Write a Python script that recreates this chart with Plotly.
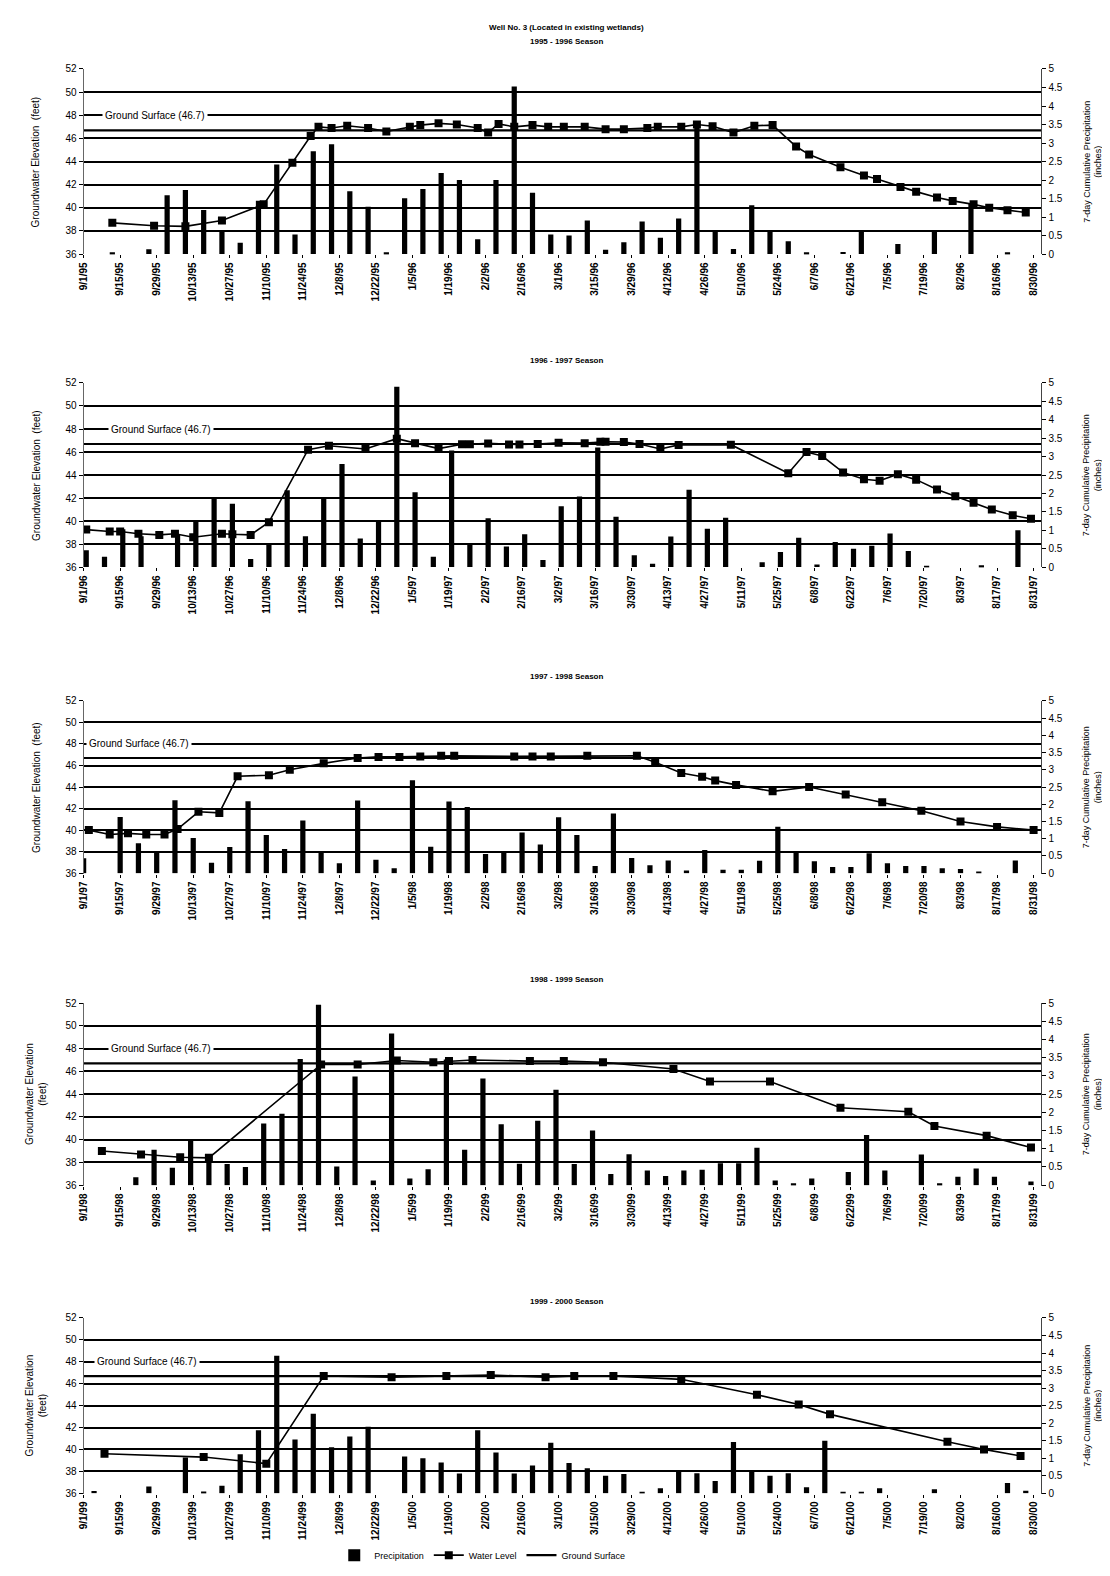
import plotly.graph_objects as go
from datetime import date, timedelta

# ---------------- data ----------------
MAIN_TITLE = "Well No. 3 (Located in existing wetlands)"
SEASON_TITLES = ["1995 - 1996 Season", "1996 - 1997 Season", "1997 - 1998 Season",
                 "1998 - 1999 Season", "1999 - 2000 Season"]
SEASON_STARTS = ["1995-09-01", "1996-09-01", "1997-09-01", "1998-09-01", "1999-09-01"]
GROUND_SURFACE_FT = 46.7
GROUND_LABEL = "Ground Surface (46.7)"

ELEV_TICKS = [36, 38, 40, 42, 44, 46, 48, 50, 52]
PRECIP_TICKS = [0, 0.5, 1, 1.5, 2, 2.5, 3, 3.5, 4, 4.5, 5]
PRECIP_TICKTEXT = ["0", "0.5", "1", "1.5", "2", "2.5", "3", "3.5", "4", "4.5", "5"]

# weekly 7-day cumulative precipitation (inches); first bar day offset from season start
precip_first_day = [11, 1, 0, 20, 4]
precip_9596 = [0.05, 0, 0.13, 1.59, 1.73, 1.19, 0.62, 0.31, 1.44, 2.42, 0.53, 2.78, 2.97, 1.70,
               1.28, 0.05, 1.51, 1.76, 2.19, 2.0, 0.4, 2.0, 4.53, 1.66, 0.53,
               0.5, 0.91, 0.12, 0.32, 0.88, 0.44, 0.96, 3.53, 0.65, 0.14, 1.32, 0.64, 0.35,
               0.05, 0, 0.06, 0.64, 0, 0.27, 0, 0.62, 0, 1.36, 0, 0.05, 0]
precip_9697 = [0.46, 0.28, 1.03, 0.84, 0, 0.87, 1.28, 1.86, 1.72, 0.22, 0.65, 2.09, 0.84, 1.85,
               2.8, 0.78, 1.23, 4.9, 2.03, 0.28, 3.17, 0.63, 1.33, 0.56, 0.89, 0.19, 1.65,
               1.92, 3.25, 1.37, 0.32, 0.09, 0.83, 2.1, 1.04, 1.34, 0, 0.13, 0.41, 0.8, 0.07,
               0.68, 0.5, 0.58, 0.91, 0.44, 0.04, 0, 0, 0.05, 0, 1.0]
precip_9798 = [0.43, 0, 1.63, 0.87, 0.6, 2.12, 1.02, 0.3, 0.76, 2.09, 1.11, 0.7, 1.53, 0.59,
               0.29, 2.11, 0.39, 0.14, 2.7, 0.77, 2.08, 1.92, 0.56, 0.59, 1.18, 0.83, 1.62,
               1.11, 0.21, 1.73, 0.44, 0.23, 0.37, 0.08, 0.67, 0.1, 0.1, 0.36, 1.35, 0.64,
               0.35, 0.18, 0.18, 0.58, 0.29, 0.21, 0.21, 0.14, 0.12, 0.03, 0, 0.37, 0]
precip_9899 = [0.22, 0.97, 0.48, 1.21, 0.83, 0.58, 0.5, 1.69, 1.96, 3.46, 4.95, 0.51, 2.98,
               0.13, 4.16, 0.18, 0.44, 3.45, 0.97, 2.93, 1.67, 0.59, 1.77, 2.62,
               0.58, 1.5, 0.31, 0.85, 0.4, 0.25, 0.4, 0.42, 0.6, 0.6, 1.03, 0.13, 0.05, 0.18,
               0, 0.36, 1.38, 0.4, 0, 0.84, 0.05, 0.23, 0.46, 0.23, 0, 0.1]
precip_9900 = [0.06, 0, 0, 0.19, 0, 1.02, 0.05, 0.21, 1.11, 1.8, 3.92, 1.53, 2.27, 1.31, 1.62,
               1.9, 0, 1.05, 1.0, 0.88, 0.56, 1.8, 1.16, 0.56, 0.79, 1.44,
               0.86, 0.71, 0.5, 0.55, 0.02, 0.14, 0.62, 0.57, 0.35, 1.46, 0.62, 0.5, 0.57,
               0.17, 1.5, 0.03, 0.02, 0.14, 0, 0, 0.11, 0, 0, 0, 0.29, 0.07]

# water level readings: day offset from season start, elevation (ft)
wl_days_9596 = [11, 27, 39, 53, 69, 80, 87, 90, 95, 101, 109, 116, 125, 129, 136, 143, 151, 155,
                159, 165, 172, 178, 184, 192, 200, 207, 216, 220, 229, 235, 241, 249, 257, 264,
                273, 278, 290, 299, 304, 313, 319, 327, 333, 341, 347, 354, 361]
wl_ft_9596 = [38.7, 38.45, 38.4, 38.9, 40.3, 43.9, 46.2, 47.0, 46.9, 47.1, 46.9, 46.6, 47.0,
              47.15, 47.3, 47.2, 46.9, 46.5, 47.25, 47.0, 47.15, 47.0, 47.0, 47.0, 46.8, 46.8,
              46.9, 47.0, 47.0, 47.2, 47.05, 46.5, 47.1, 47.15, 45.3, 44.6, 43.5, 42.8, 42.5,
              41.8, 41.4, 40.9, 40.6, 40.3, 40.0, 39.8, 39.6]
wl_days_9697 = [1, 10, 14, 21, 29, 35, 42, 53, 57, 64, 71, 86, 94, 108, 120, 127, 136, 145, 148,
                155, 163, 167, 174, 182, 192, 198, 200, 207, 213, 221, 228, 248, 270, 277, 283,
                291, 299, 305, 312, 319, 327, 334, 341, 348, 356, 363]
wl_ft_9697 = [39.26, 39.1, 39.1, 38.9, 38.8, 38.9, 38.6, 38.9, 38.85, 38.8, 39.9, 46.2, 46.55,
              46.26, 47.16, 46.77, 46.3, 46.67, 46.67, 46.75, 46.65, 46.65, 46.7, 46.8, 46.77,
              46.9, 46.9, 46.87, 46.7, 46.26, 46.62, 46.64, 44.16, 46.0, 45.65, 44.23, 43.64,
              43.5, 44.08, 43.6, 42.74, 42.15, 41.6, 41.0, 40.5, 40.2]
wl_days_9798 = [2, 10, 17, 24, 31, 36, 44, 52, 59, 71, 79, 92, 105, 113, 121, 129, 137, 142,
                165, 172, 179, 193, 212, 219, 229, 237, 242, 250, 264, 278, 292, 306, 321, 336,
                350, 364]
wl_ft_9798 = [40.0, 39.6, 39.7, 39.6, 39.6, 40.1, 41.7, 41.6, 45.0, 45.1, 45.6, 46.2, 46.7,
              46.8, 46.8, 46.85, 46.9, 46.9, 46.85, 46.85, 46.85, 46.9, 46.9, 46.3, 45.3, 44.95,
              44.6, 44.2, 43.6, 44.0, 43.3, 42.6, 41.8, 40.8, 40.3, 40.0]
wl_days_9899 = [7, 22, 37, 48, 91, 105, 120, 134, 140, 149, 171, 184, 199, 226, 240, 263, 290,
                316, 326, 346, 363]
wl_ft_9899 = [39.0, 38.7, 38.45, 38.4, 46.6, 46.6, 46.95, 46.8, 46.9, 47.0, 46.9, 46.9, 46.8,
              46.2, 45.1, 45.1, 42.8, 42.45, 41.2, 40.35, 39.3]
wl_days_9900 = [8, 46, 70, 92, 118, 139, 156, 177, 188, 203, 229, 258, 274, 286, 331, 345, 359]
wl_ft_9900 = [39.6, 39.3, 38.7, 46.7, 46.6, 46.7, 46.8, 46.6, 46.7, 46.7, 46.4, 45.0, 44.1,
              43.2, 40.7, 40.0, 39.4]

PRECIP = [precip_9596, precip_9697, precip_9798, precip_9899, precip_9900]
WL_DAYS = [wl_days_9596, wl_days_9697, wl_days_9798, wl_days_9899, wl_days_9900]
WL_FT = [wl_ft_9596, wl_ft_9697, wl_ft_9798, wl_ft_9899, wl_ft_9900]

# ---------------- layout (pixels) ----------------
FIG_W, FIG_H = 1110, 1576
PLOT_L, PLOT_R = 70, 1033
PANELS = [(56, 243), (372, 558), (692, 866), (996, 1180), (1313, 1490)]
TITLE_Y = [29, 350, 668, 973, 1297]
GS_LABEL_X = [88, 95, 72, 95, 80]
LEFT_TITLE_2LINE = [False, False, False, True, True]
FONT = "Liberation Sans, Arial, sans-serif"

def px_x(p):
    return p / FIG_W

def px_y(p):
    return 1 - p / FIG_H

def fmt(d):
    return f"{d.month}/{d.day}/{d.year % 100:02d}"

fig = go.Figure()
layout = dict(width=FIG_W, height=FIG_H, margin=dict(l=0, r=0, t=0, b=0),
              plot_bgcolor="white", paper_bgcolor="white",
              font=dict(family=FONT, size=9, color="black"),
              barmode="overlay", showlegend=True)
annotations = []
EL_LO, EL_HI = 35.97, 52.03
PR_LO, PR_HI = (EL_LO - 36) * 5 / 16, (EL_HI - 36) * 5 / 16
DAY_MS = 86400000

for i in range(5):
    xref = "x" if i == 0 else f"x{i+1}"
    xname = "xaxis" if i == 0 else f"xaxis{i+1}"
    yr = 2 * i + 1
    yl = 2 * i + 2
    yr_ref = "y" if yr == 1 else f"y{yr}"
    yr_name = "yaxis" if yr == 1 else f"yaxis{yr}"
    yl_ref = f"y{yl}"
    yl_name = f"yaxis{yl}"
    start = date.fromisoformat(SEASON_STARTS[i])
    show = (i == 4)

    bar_x = [(start + timedelta(days=precip_first_day[i] + 7 * k)).isoformat()
             for k in range(len(PRECIP[i]))]
    fig.add_trace(go.Bar(x=bar_x, y=PRECIP[i], xaxis=xref, yaxis=yr_ref,
                         marker=dict(color="black", line=dict(width=0)),
                         width=2.0 * DAY_MS, name="Precipitation",
                         showlegend=show, legendrank=1))
    wl_x = [(start + timedelta(days=d)).isoformat() for d in WL_DAYS[i]]
    fig.add_trace(go.Scatter(x=wl_x, y=WL_FT[i], xaxis=xref, yaxis=yl_ref,
                             mode="lines+markers", name="Water Level",
                             line=dict(color="black", width=1.6),
                             marker=dict(symbol="square", size=8, color="black"),
                             showlegend=show, legendrank=2))
    end = start + timedelta(days=367)
    fig.add_trace(go.Scatter(x=[start.isoformat(), end.isoformat()],
                             y=[GROUND_SURFACE_FT, GROUND_SURFACE_FT],
                             xaxis=xref, yaxis=yl_ref, mode="lines", name="Ground Surface",
                             line=dict(color="black", width=2.2),
                             showlegend=show, legendrank=3))

    ticks = [start + timedelta(days=14 * k) for k in range(27)]
    top, bot = PANELS[i]
    layout[xname] = dict(type="date", domain=[px_x(PLOT_L), px_x(PLOT_R)], anchor=yr_ref,
                         range=[(start - timedelta(hours=12)).isoformat(),
                                (start + timedelta(days=367)).isoformat()],
                         tickmode="array", tickvals=[t.isoformat() for t in ticks],
                         ticktext=[f"<b>{fmt(t)}</b>" for t in ticks],
                         tickangle=-90, tickfont=dict(size=10), ticks="outside", ticklen=3,
                         tickcolor="black", showgrid=False, zeroline=False, showline=False)
    layout[yr_name] = dict(domain=[px_y(bot), px_y(top)], anchor=xref, side="right",
                           range=[PR_LO, PR_HI], tickmode="array", tickvals=PRECIP_TICKS,
                           ticktext=PRECIP_TICKTEXT, ticks="outside", ticklen=4,
                           tickcolor="black", tickfont=dict(size=10), showgrid=False,
                           zeroline=False, showline=True, linecolor="#444", linewidth=1)
    layout[yl_name] = dict(overlaying=yr_ref, anchor=xref, side="left",
                           range=[EL_LO, EL_HI], tickmode="array", tickvals=ELEV_TICKS,
                           ticks="outside", ticklen=4, tickcolor="black",
                           tickfont=dict(size=10), showgrid=True, gridcolor="black",
                           gridwidth=1.7, zeroline=False, showline=True,
                           linecolor="#666", linewidth=1)

    # season title
    annotations.append(dict(text=f"<b>{SEASON_TITLES[i]}</b>", x=0.5, y=px_y(TITLE_Y[i]),
                            xref="paper", yref="paper", showarrow=False,
                            font=dict(size=8), xanchor="center", yanchor="middle"))
    # ground surface label
    annotations.append(dict(text=GROUND_LABEL, x=px_x(GS_LABEL_X[i]), y=48,
                            xref="paper", yref=yl_ref, showarrow=False, xanchor="left",
                            yanchor="middle", bgcolor="white", borderpad=2,
                            font=dict(size=10)))
    # axis titles
    mid = px_y((top + bot) / 2)
    ltxt = ("Groundwater Elevation<br>(feet)" if LEFT_TITLE_2LINE[i]
            else "Groundwater Elevation  (feet)")
    annotations.append(dict(text=ltxt, x=px_x(22), y=mid, xref="paper", yref="paper",
                            showarrow=False, textangle=-90, xanchor="center",
                            yanchor="middle", font=dict(size=10)))
    annotations.append(dict(text="7-day Cumulative Precipitation<br>(inches)",
                            x=px_x(1084), y=mid, xref="paper", yref="paper",
                            showarrow=False, textangle=-90, xanchor="center",
                            yanchor="middle", font=dict(size=9)))

annotations.append(dict(text=f"<b>{MAIN_TITLE}</b>", x=0.5, y=px_y(15), xref="paper",
                        yref="paper", showarrow=False, font=dict(size=8),
                        xanchor="center", yanchor="middle"))

layout["annotations"] = annotations
layout["legend"] = dict(orientation="h", x=px_x(322), y=px_y(1552), xanchor="left",
                        yanchor="middle", font=dict(size=9), itemwidth=30,
                        bgcolor="rgba(0,0,0,0)")
fig.update_layout(**layout)
fig.write_html("out.html")
